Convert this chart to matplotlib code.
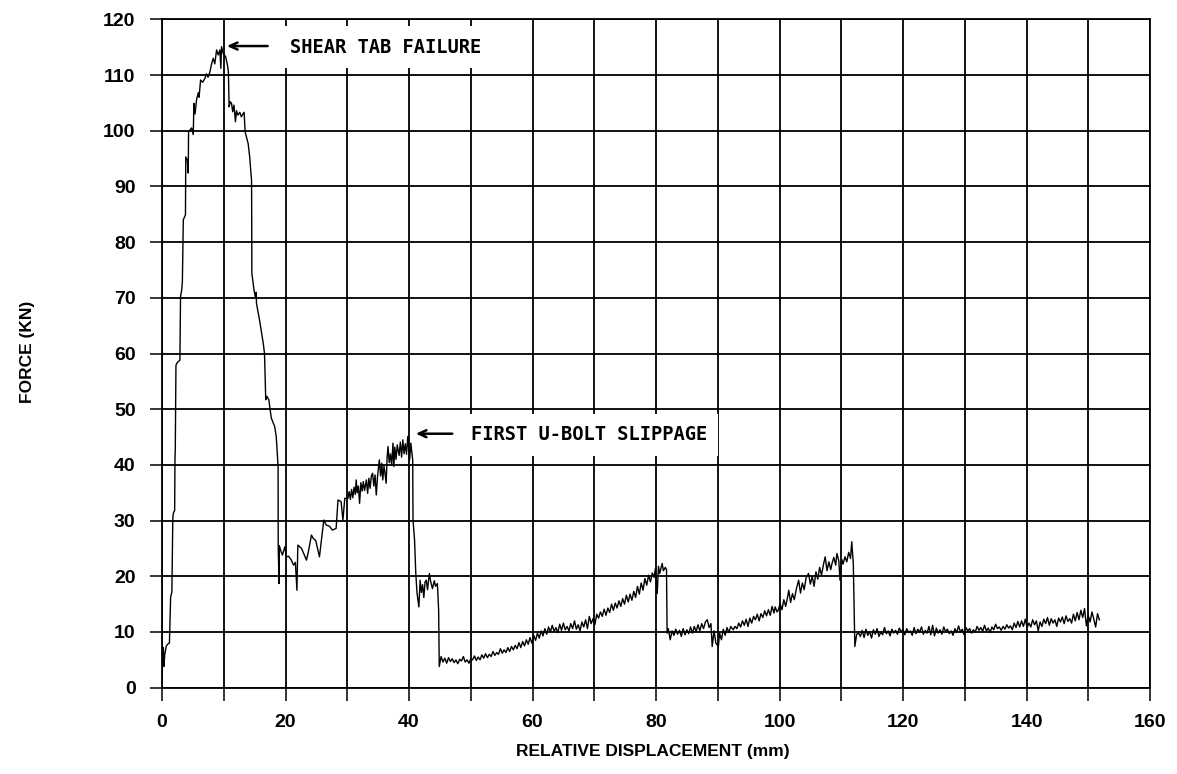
import matplotlib
matplotlib.use("Agg")
import matplotlib.pyplot as plt
import numpy as np

# ---------------- data ----------------
# (displacement mm, force kN)
loading_to_shear_failure = [
    (0.0, 0.5), (0.05, 6.5), (0.15, 4.0), (0.22, 7.2), (0.3, 3.8), (0.45, 6.0), (0.7, 7.5),
    (1.0, 7.9), (1.2, 8.0), (1.3, 12.5), (1.4, 16.3), (1.6, 17.2), (1.75, 30.5), (1.85, 31.4),
    (2.05, 31.8), (2.1, 40.9), (2.15, 42.7), (2.2, 50.0), (2.26, 57.9), (2.5, 58.4), (2.9, 58.8),
    (3.0, 70.2), (3.2, 71.5), (3.3, 72.9), (3.45, 84.0), (3.8, 84.9), (3.83, 91.1), (3.85, 95.3),
    (4.1, 94.7), (4.25, 92.4), (4.3, 99.8), (4.8, 100.5), (5.06, 99.3), (5.17, 104.9), (5.35, 103.0),
    (5.6, 105.6), (5.87, 106.8), (6.0, 106.0), (6.25, 109.1), (6.6, 108.7), (6.95, 109.4),
    (7.2, 110.2), (7.45, 109.6), (7.75, 110.5), (8.03, 112.0), (8.3, 113.0), (8.55, 112.0),
    (8.84, 114.5), (9.1, 113.6), (9.37, 114.5), (9.53, 111.2), (9.64, 115.1), (9.9, 113.9),
    (10.3, 113.3), (10.6, 111.8), (10.75, 110.6), (10.87, 104.3), (11.05, 105.2), (11.26, 104.9),
    (11.45, 103.4), (11.65, 104.6), (11.9, 101.6), (12.06, 103.6), (12.3, 102.8), (12.6, 103.3),
    (12.85, 102.5), (13.1, 103.0), (13.3, 103.3), (13.46, 99.8), (13.95, 97.7), (14.2, 95.3),
    (14.5, 91.1), (14.52, 87.5), (14.55, 74.4), (14.9, 71.4), (15.1, 70.2), (15.25, 71.0),
    (15.3, 69.0), (15.8, 66.0), (16.4, 61.8), (16.6, 60.0), (16.8, 51.7), (17.0, 52.3),
    (17.3, 51.7), (17.7, 48.4), (18.25, 46.9), (18.5, 45.1), (18.8, 39.7), (18.82, 25.3),
    (18.95, 18.7),
]

reloading_to_first_slip = [
    (19.0, 25.5), (19.2, 24.7), (19.5, 23.8), (19.9, 25.3), (20.15, 23.5), (20.5, 23.6),
    (20.95, 22.9), (21.3, 22.0), (21.6, 22.5), (21.85, 17.5), (22.0, 25.6), (22.6, 25.0),
    (23.4, 22.9), (23.7, 24.4), (24.2, 27.4), (24.5, 26.8), (24.9, 26.4), (25.5, 23.5),
    (26.2, 30.1), (26.6, 29.2), (27.1, 29.0), (27.6, 28.3), (28.2, 28.6), (28.5, 33.7),
    (29.0, 33.4), (29.3, 30.1), (29.6, 34.0), (30.1, 34.0), (30.3, 35.2), (30.5, 33.8),
    (30.7, 35.6), (30.9, 34.1), (31.1, 36.0), (31.3, 34.7), (31.45, 37.3), (31.6, 35.0),
    (31.8, 36.2), (32.0, 33.1), (32.2, 36.8), (32.4, 35.3), (32.6, 37.0), (32.8, 35.4),
    (33.1, 37.3), (33.3, 34.9), (33.5, 37.6), (33.7, 35.8), (33.9, 38.0), (34.1, 38.5),
    (34.3, 36.2), (34.5, 38.2), (34.7, 34.6), (34.9, 37.9), (35.2, 40.9), (35.4, 38.0),
    (35.6, 40.3), (35.75, 37.3), (35.95, 39.8), (36.1, 38.6), (36.3, 36.7), (36.45, 41.2),
    (36.6, 43.3), (36.8, 40.4), (37.0, 42.0), (37.2, 39.9), (37.4, 43.9), (37.55, 39.7),
    (37.7, 43.2), (37.9, 41.0), (38.1, 43.6), (38.4, 41.7), (38.6, 44.1), (38.8, 41.4),
    (39.0, 44.5), (39.2, 42.0), (39.4, 43.8), (39.6, 41.9), (39.8, 45.1), (40.1, 40.9),
    (40.3, 43.9), (40.6, 40.9),
]

slip_drop = [
    (40.65, 30.1), (40.9, 26.5), (41.1, 20.5), (41.3, 17.0), (41.6, 14.5), (41.8, 19.3),
    (42.0, 17.1), (42.2, 18.5), (42.4, 16.2), (42.6, 19.0), (42.8, 19.3), (43.0, 17.6),
    (43.3, 20.5), (43.5, 19.1), (43.8, 17.8), (44.1, 19.2), (44.3, 18.2), (44.6, 18.7),
    (44.8, 13.9), (44.9, 3.8), (45.2, 5.6),
]

second_loading = [
    (45.5, 4.6), (45.8, 5.3), (46.1, 4.4), (46.4, 5.4), (46.7, 4.7), (47.0, 5.2), (47.3, 4.5),
    (47.6, 5.0), (47.9, 4.3), (48.2, 5.1), (48.5, 4.8), (48.8, 5.6), (49.1, 4.6), (49.4, 5.0),
    (49.7, 4.4), (50.0, 5.2), (50.3, 5.0), (50.6, 5.7), (50.9, 4.9), (51.2, 5.5), (51.5, 5.0),
    (51.8, 5.9), (52.1, 5.3), (52.4, 6.1), (52.7, 5.4), (53.0, 6.0), (53.3, 5.6), (53.6, 6.5),
    (53.9, 5.8), (54.2, 6.3), (54.5, 6.0), (54.8, 7.0), (55.1, 6.2), (55.4, 6.8), (55.7, 6.3),
    (56.0, 7.2), (56.3, 6.5), (56.6, 7.4), (56.9, 6.8), (57.2, 7.6), (57.5, 7.0), (57.8, 8.1),
    (58.1, 7.2), (58.4, 8.3), (58.7, 7.5), (59.0, 8.6), (59.3, 7.8), (59.6, 9.0), (59.9, 8.0),
    (60.2, 9.4), (60.5, 8.5), (60.8, 9.8), (61.1, 8.9), (61.4, 10.2), (61.7, 9.3), (62.0, 10.6),
    (62.3, 9.6), (62.6, 10.9), (62.9, 10.0), (63.2, 11.2), (63.5, 10.1), (63.8, 10.8),
    (64.1, 9.9), (64.4, 11.4), (64.7, 10.3), (65.0, 11.6), (65.3, 10.4), (65.6, 11.0),
    (65.9, 10.2), (66.2, 11.5), (66.5, 10.6), (66.8, 12.0), (67.1, 10.5), (67.4, 11.3),
    (67.7, 10.2), (68.0, 11.8), (68.3, 10.9), (68.6, 12.2), (68.9, 10.6), (69.2, 12.8),
    (69.5, 11.5), (69.8, 12.4), (70.1, 11.3), (70.4, 13.2), (70.7, 12.5), (71.0, 13.6),
    (71.3, 12.8), (71.6, 14.1), (71.9, 13.0), (72.2, 14.3), (72.5, 13.5), (72.8, 15.0),
    (73.1, 13.9), (73.4, 15.2), (73.7, 14.3), (74.0, 15.6), (74.3, 14.6), (74.6, 16.0),
    (74.9, 15.0), (75.2, 16.6), (75.5, 15.4), (75.8, 16.8), (76.1, 15.7), (76.4, 17.3),
    (76.7, 16.2), (77.0, 18.2), (77.3, 16.8), (77.6, 18.8), (77.9, 17.5), (78.2, 19.6),
    (78.5, 18.4), (78.8, 20.2), (79.1, 19.0), (79.4, 20.6), (79.7, 19.8), (79.9, 21.4),
    (80.2, 16.9), (80.4, 21.8), (80.6, 20.5), (81.0, 22.3), (81.2, 21.0), (81.5, 21.6),
    (81.7, 21.2),
]

third_loading = [
    (81.8, 9.8), (82.0, 10.6), (82.3, 8.6), (82.6, 10.2), (82.9, 9.4), (83.2, 10.5), (83.5, 9.6),
    (83.8, 10.3), (84.1, 9.2), (84.4, 10.6), (84.7, 9.5), (85.0, 10.4), (85.3, 9.7), (85.6, 10.9),
    (85.9, 9.8), (86.2, 11.0), (86.5, 10.1), (86.8, 11.3), (87.1, 10.2), (87.4, 11.5),
    (87.7, 10.6), (88.0, 11.8), (88.3, 12.2), (88.6, 10.8), (88.9, 11.5), (89.1, 7.4),
    (89.4, 10.2), (89.7, 8.0), (90.1, 7.4), (90.3, 9.8), (90.6, 8.6), (90.9, 10.5), (91.2, 9.4),
    (91.5, 10.8), (91.8, 9.9), (92.1, 11.0), (92.5, 10.4), (92.8, 11.0), (93.1, 10.6),
    (93.4, 11.6), (93.7, 10.9), (94.0, 12.0), (94.3, 11.2), (94.6, 12.3), (94.9, 11.0),
    (95.2, 12.5), (95.5, 11.6), (95.8, 12.8), (96.1, 12.2), (96.4, 13.2), (96.7, 12.0),
    (97.0, 13.3), (97.3, 12.6), (97.6, 13.8), (97.9, 12.9), (98.2, 14.0), (98.5, 13.0),
    (98.8, 14.6), (99.1, 13.4), (99.3, 14.5), (99.6, 13.6), (99.8, 13.9), (100.1, 15.1),
    (100.4, 14.0), (100.7, 15.8), (101.0, 14.6), (101.3, 16.2), (101.5, 17.5), (101.8, 15.3),
    (102.1, 16.9), (102.4, 15.8), (102.7, 17.6), (103.1, 19.3), (103.4, 17.0), (103.7, 18.8),
    (104.0, 17.6), (104.3, 19.7), (104.7, 20.5), (105.0, 18.6), (105.3, 20.0), (105.6, 18.2),
    (105.9, 20.8), (106.2, 19.5), (106.5, 21.6), (106.8, 20.2), (107.1, 22.0), (107.4, 23.5),
    (107.7, 21.0), (108.0, 22.6), (108.3, 21.2), (108.5, 22.3), (108.8, 23.4), (109.1, 22.0),
    (109.3, 24.1), (109.6, 22.8), (109.8, 19.3), (110.1, 23.0), (110.3, 22.2), (110.6, 23.5),
    (110.9, 22.6), (111.2, 24.3), (111.5, 23.2), (111.7, 26.2), (111.95, 22.3),
]

final_plateau = [
    (112.2, 7.4), (112.5, 9.6), (112.8, 9.8), (113.1, 9.2), (113.4, 10.3), (113.7, 9.0),
    (114.0, 10.5), (114.3, 9.4), (114.6, 10.1), (114.9, 8.9), (115.2, 10.4), (115.5, 9.6),
    (115.8, 10.6), (116.1, 9.2), (116.4, 10.0), (116.7, 9.5), (117.0, 10.8), (117.3, 9.7),
    (117.6, 10.2), (117.9, 9.3), (118.2, 10.5), (118.5, 9.8), (118.8, 10.3), (119.1, 9.6),
    (119.4, 10.7), (119.7, 10.1), (120.0, 10.4), (120.3, 9.5), (120.6, 10.6), (120.9, 9.9),
    (121.2, 10.2), (121.5, 9.4), (121.8, 10.8), (122.1, 9.7), (122.4, 10.5), (122.7, 10.0),
    (123.0, 10.9), (123.3, 9.6), (123.6, 10.3), (123.9, 9.8), (124.2, 11.0), (124.5, 9.5),
    (124.8, 11.2), (125.1, 9.3), (125.4, 10.7), (125.7, 9.8), (126.0, 10.4), (126.3, 9.6),
    (126.6, 10.9), (126.9, 10.1), (127.2, 10.5), (127.5, 9.7), (127.8, 10.2), (128.1, 9.4),
    (128.4, 10.6), (128.7, 9.9), (129.0, 11.1), (129.3, 10.0), (129.6, 10.5), (129.9, 9.5),
    (130.2, 10.8), (130.5, 10.2), (130.8, 10.6), (131.1, 9.8), (131.4, 10.4), (131.7, 10.0),
    (132.0, 11.0), (132.3, 10.3), (132.6, 10.8), (132.9, 10.1), (133.2, 11.2), (133.5, 10.2),
    (133.8, 10.7), (134.1, 9.9), (134.4, 10.9), (134.7, 10.4), (135.0, 11.4), (135.3, 10.6),
    (135.6, 10.9), (135.9, 10.3), (136.2, 11.0), (136.5, 10.5), (136.8, 11.3), (137.1, 10.7),
    (137.4, 11.1), (137.7, 10.4), (138.0, 11.6), (138.3, 10.8), (138.6, 11.9), (138.9, 10.9),
    (139.2, 12.0), (139.5, 11.0), (139.8, 12.3), (140.1, 10.8), (140.4, 11.6), (140.7, 10.9),
    (141.0, 12.2), (141.3, 11.3), (141.6, 12.0), (141.9, 10.2), (142.2, 11.8), (142.5, 11.0),
    (142.8, 12.3), (143.1, 11.5), (143.4, 12.6), (143.7, 11.2), (144.0, 12.4), (144.3, 11.6),
    (144.6, 12.2), (144.9, 11.0), (145.2, 12.5), (145.5, 11.8), (145.8, 12.7), (146.1, 11.5),
    (146.4, 12.9), (146.7, 11.9), (147.0, 12.4), (147.3, 11.6), (147.6, 13.2), (147.9, 12.0),
    (148.2, 13.5), (148.5, 12.2), (148.8, 13.9), (149.1, 12.6), (149.4, 14.2), (149.7, 11.1),
    (150.0, 13.0), (150.3, 11.8), (150.6, 13.6), (150.9, 12.3), (151.2, 10.9), (151.5, 13.3),
    (151.8, 12.2),
]

x_ticks = list(range(0, 161, 10))
x_tick_labels = [str(v) if v % 20 == 0 else "" for v in x_ticks]
y_ticks = list(range(0, 121, 10))
y_tick_labels = [str(v) for v in y_ticks]

annotations = [
    # (text, arrow tip x, arrow tip y, arrow tail x, text x, text y)
    ("SHEAR TAB FAILURE", 10.5, 115.2, 17.1, 20.8, 115.0),
    ("FIRST U-BOLT SLIPPAGE", 41.1, 45.6, 47.0, 50.0, 45.4),
]

# ---------------- figure ----------------
segments = [loading_to_shear_failure, reloading_to_first_slip, slip_drop,
            second_loading, third_loading, final_plateau]
pts = [p for seg in segments for p in seg]
disp = np.array([p[0] for p in pts])
force = np.array([p[1] for p in pts])

fig = plt.figure(figsize=(11.77, 7.74), dpi=100)
ax = fig.add_axes([162 / 1177, 86.3 / 774, 988 / 1177, 668.4 / 774])

ax.plot(disp, force, color="black", lw=1.0, zorder=3)

ax.set_xlim(0, 160)
ax.set_ylim(0, 120)
ax.set_xticks(x_ticks)
ax.set_xticklabels(x_tick_labels)
ax.set_yticks(y_ticks)
ax.set_yticklabels(y_tick_labels)
ax.set_axisbelow(True)
ax.grid(True, color="black", lw=1.3)
for s in ax.spines.values():
    s.set_linewidth(1.3)
ax.tick_params(axis="both", direction="out", length=9, width=1.1, color="black")
ax.tick_params(axis="y", pad=10)
ax.tick_params(axis="x", pad=10)

for lab in ax.get_xticklabels() + ax.get_yticklabels():
    lab.set_fontfamily(["Liberation Sans", "DejaVu Sans"])
    lab.set_fontweight("bold")
    lab.set_fontsize(14)

ax.text(-0.1366, 0.502, "FORCE (KN)", transform=ax.transAxes, rotation=90,
        ha="center", va="center", family=["Liberation Sans", "DejaVu Sans"],
        weight="bold", size=12.5)
ax.text(0.497, -0.096, "RELATIVE DISPLACEMENT (mm)", transform=ax.transAxes,
        ha="center", va="center", family=["Liberation Sans Narrow", "Liberation Sans", "DejaVu Sans"],
        weight="bold", size=12.5)

for text, tipx, tipy, tailx, tx, ty in annotations:
    ax.annotate("", xy=(tipx, tipy), xytext=(tailx, tipy),
                arrowprops=dict(arrowstyle="->,head_length=0.55,head_width=0.25",
                                color="black", lw=1.8, shrinkA=0, shrinkB=0),
                zorder=5)
    ax.text(tx, ty, text, ha="left", va="center",
            family=["DejaVu Sans Mono"], weight="bold", size=13.5, zorder=4,
            bbox=dict(boxstyle="square,pad=0.6", facecolor="white", edgecolor="none"))

fig.savefig("out.png", dpi=100, facecolor="white")
